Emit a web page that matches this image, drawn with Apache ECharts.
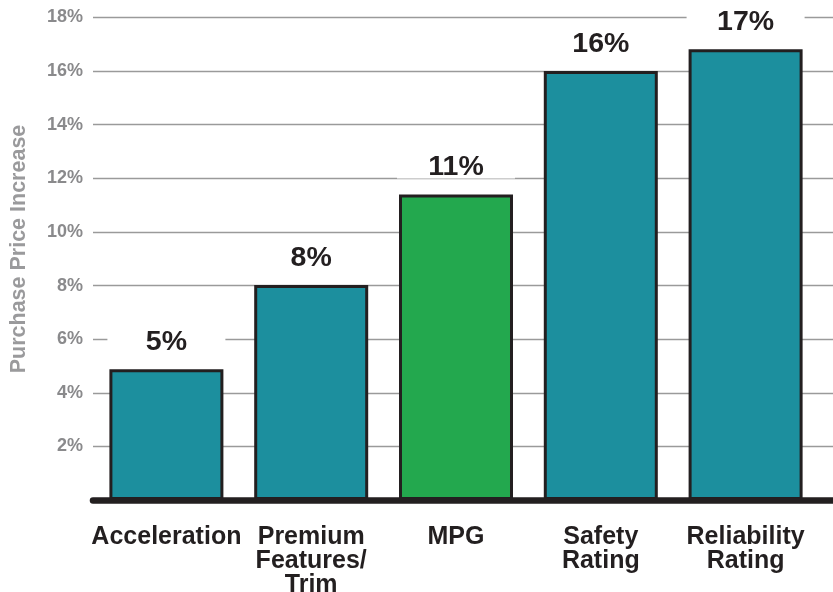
<!DOCTYPE html>
<html>
<head>
<meta charset="utf-8">
<script src="https://cdn.jsdelivr.net/npm/echarts@6/dist/echarts.min.js"></script>
<style>
html,body{margin:0;padding:0;background:#fff;}
#chart{width:833px;height:592px;}
</style>
</head>
<body>
<div id="chart"></div>
<script>
const categories = ['Acceleration', 'Premium\nFeatures/\nTrim', 'MPG', 'Safety\nRating', 'Reliability\nRating'];
const priceIncrease = [4.88, 8.02, 11.4, 16.0, 16.82];
const highlightCategory = 'MPG';
const yTicks = [0, 2, 4, 6, 8, 10, 12, 14, 16, 18];
const yAxisTitle = 'Purchase Price Increase';

const FONT = '"Liberation Sans", Arial, Helvetica, sans-serif';
const TEAL = '#1c8f9e';
const GREEN = '#23a84e';
const DARK = '#231f20';
const GRAY = '#8a8a8c';

const chart = echarts.init(document.getElementById('chart'), null, {renderer: 'canvas'});
const yMin = yTicks[0], yMax = yTicks[yTicks.length - 1], yStep = yTicks[1] - yTicks[0];

chart.setOption({
  backgroundColor: '#fff',
  animation: false,
  grid: [
    {left: 93, right: 0, top: 17.5, bottom: 92, containLabel: false, outerBoundsMode: 'none'},
    {left: 94, right: 15, top: 17.5, bottom: 92, containLabel: false, outerBoundsMode: 'none'}
  ],
  xAxis: [
    {
      gridIndex: 0, type: 'value', min: 0, max: 1, z: 10,
      axisLine: {show: true, onZero: false, lineStyle: {color: DARK, width: 6.5}},
      axisTick: {show: false}, axisLabel: {show: false}, splitLine: {show: false}
    },
    {
      gridIndex: 1, type: 'category', data: categories,
      axisLine: {show: false}, axisTick: {show: false},
      axisLabel: {
        interval: 0, margin: 25,
        fontFamily: FONT, fontWeight: 'bold', fontSize: 25, lineHeight: 24, color: DARK
      }
    }
  ],
  yAxis: [
    {
      gridIndex: 0, type: 'value', min: yMin, max: yMax, interval: yStep,
      axisLine: {show: false}, axisTick: {show: false},
      axisLabel: {
        margin: 10, fontFamily: FONT, fontWeight: 'bold', fontSize: 18, color: GRAY,
        formatter: v => v === 0 ? '' : v + '%'
      },
      splitLine: {show: true, lineStyle: {color: '#9a9a9a', width: 1.3}}
    },
    {
      gridIndex: 1, type: 'value', min: yMin, max: yMax, interval: yStep, show: false,
      splitLine: {show: false}
    }
  ],
  graphic: [{
    type: 'text',
    x: 19, y: 249,
    rotation: Math.PI / 2,
    style: {
      text: yAxisTitle,
      fontFamily: FONT, fontWeight: 'bold', fontSize: 21.5,
      fill: '#9a9a9c', textAlign: 'center', textVerticalAlign: 'middle'
    }
  }],
  series: [{
    type: 'bar',
    xAxisIndex: 1, yAxisIndex: 1,
    data: priceIncrease,
    barWidth: 114,
    z: 2,
    itemStyle: {
      color: p => p.name === highlightCategory ? GREEN : TEAL,
      borderColor: DARK, borderWidth: 3
    },
    label: {
      show: true, position: 'top', distance: 16,
      formatter: p => Math.round(p.value) + '%',
      fontFamily: FONT, fontWeight: 'bold', fontSize: 28.5, color: DARK,
      backgroundColor: '#fff', width: 118, height: 22, lineHeight: 22, align: 'center'
    }
  }]
});
</script>
</body>
</html>
